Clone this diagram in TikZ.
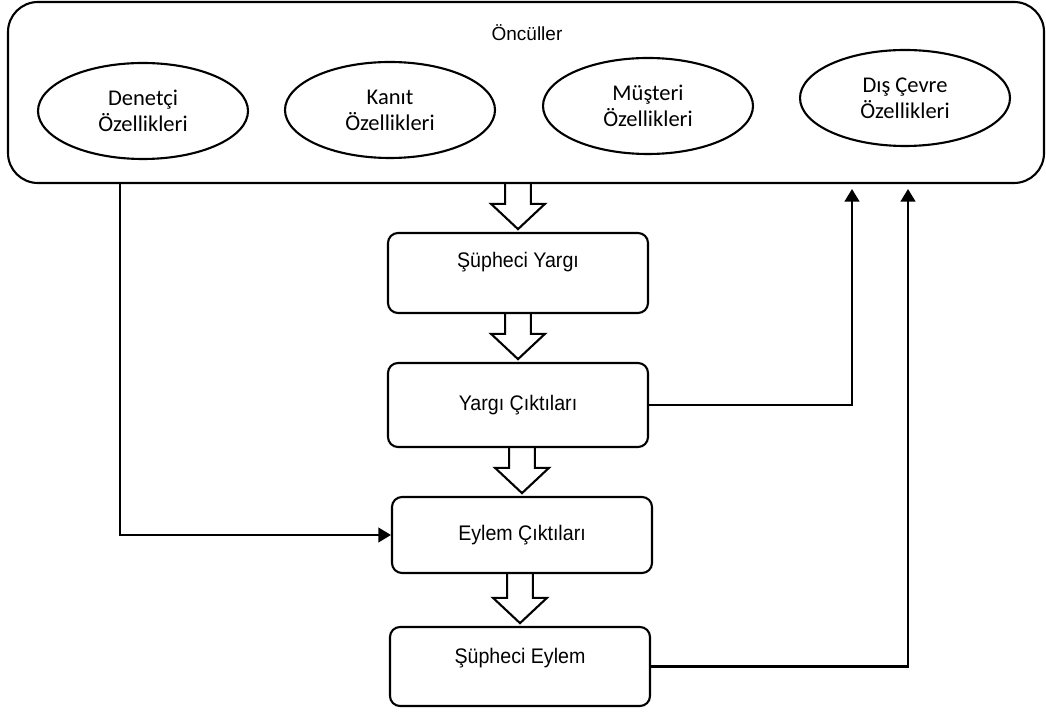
\documentclass[tikz,border=0pt]{standalone}
\usepackage{fontspec}
\setmainfont{Liberation Sans}
\newfontfamily\elipsfont{Carlito}
\newfontfamily\kutufont[FakeStretch=0.93]{Liberation Sans}
\usetikzlibrary{arrows.meta,calc,positioning,shapes.geometric}

\tikzset{
  kutu/.style={draw, rounded corners=2.5mm, minimum width=65mm, line width=1.5pt,
    align=center, inner sep=0pt, font=\kutufont\fontsize{15}{18}\selectfont},
  elips/.style={draw, ellipse, minimum width=52.5mm, minimum height=24mm, line width=1.5pt,
    align=center, inner sep=0pt, font=\elipsfont\fontsize{16}{18.5}\selectfont},
  ok/.style={line width=1.5pt, -{Triangle[length=9pt,width=10.5pt]}},
  blok/.style={line width=1.5pt, line join=miter},
}
% hollow block arrow from the bottom of one box to the top of the next
\newcommand{\kalinok}[2]{%
  \draw[blok] let \p1=(#1), \p2=(#2) in
    (\x2-9.2pt,\y1) -- (\x2-9.2pt,\y2+20pt) -- (\x2-19.2pt,\y2+20pt) -- (\x2,\y2+2pt)
    -- (\x2+19.2pt,\y2+20pt) -- (\x2+9.2pt,\y2+20pt) -- (\x2+9.2pt,\y1);}

\begin{document}
\begin{tikzpicture}[x=0.25mm,y=-0.25mm]
\useasboundingbox (0,0) rectangle (1046,713);

% antecedents
\node[draw, rounded corners=7.5mm, line width=1.5pt, minimum width=259mm, minimum height=45.25mm] (oncul) at (526,92.5) {};
\node[anchor=base, font=\fontsize{13.5}{16}\selectfont] (baslik) at (527,41) {Öncüller};
\node[elips] (denetci) at (143,111) {Denetçi\\Özellikleri};
\node[elips] (kanit) at (390,110) {Kanıt\\Özellikleri};
\node[elips] (musteri) at (648,106) {Müşteri\\Özellikleri};
\node[elips] (cevre) at (905,98) {Dış Çevre\\Özellikleri};

% process chain
\node[kutu, minimum height=20mm, text height=10pt, text depth=18.4pt] (sy) at (518,273) {Şüpheci Yargı};
\node[kutu, minimum height=21mm] (yc) at (518,405) {Yargı Çıktıları};
\node[kutu, minimum height=19mm] (ec) at (522,535) {Eylem Çıktıları};
\node[kutu, minimum height=19.75mm, text height=10pt, text depth=14.2pt] (se) at (520,666.5) {Şüpheci Eylem};

\kalinok{oncul.south}{sy.north}
\kalinok{sy.south}{yc.north}
\kalinok{yc.south}{ec.north}
\kalinok{ec.south}{se.north}

% feedback lines
\coordinate (solalt) at (120,183);
\coordinate (hedef1) at (852,189);
\coordinate (hedef2) at (908,189);
\draw[ok] (solalt) |- (ec.west);
\draw[ok] (yc.east) -| (hedef1);
\draw[ok] (se.east) -| (hedef2);
\end{tikzpicture}
\end{document}
